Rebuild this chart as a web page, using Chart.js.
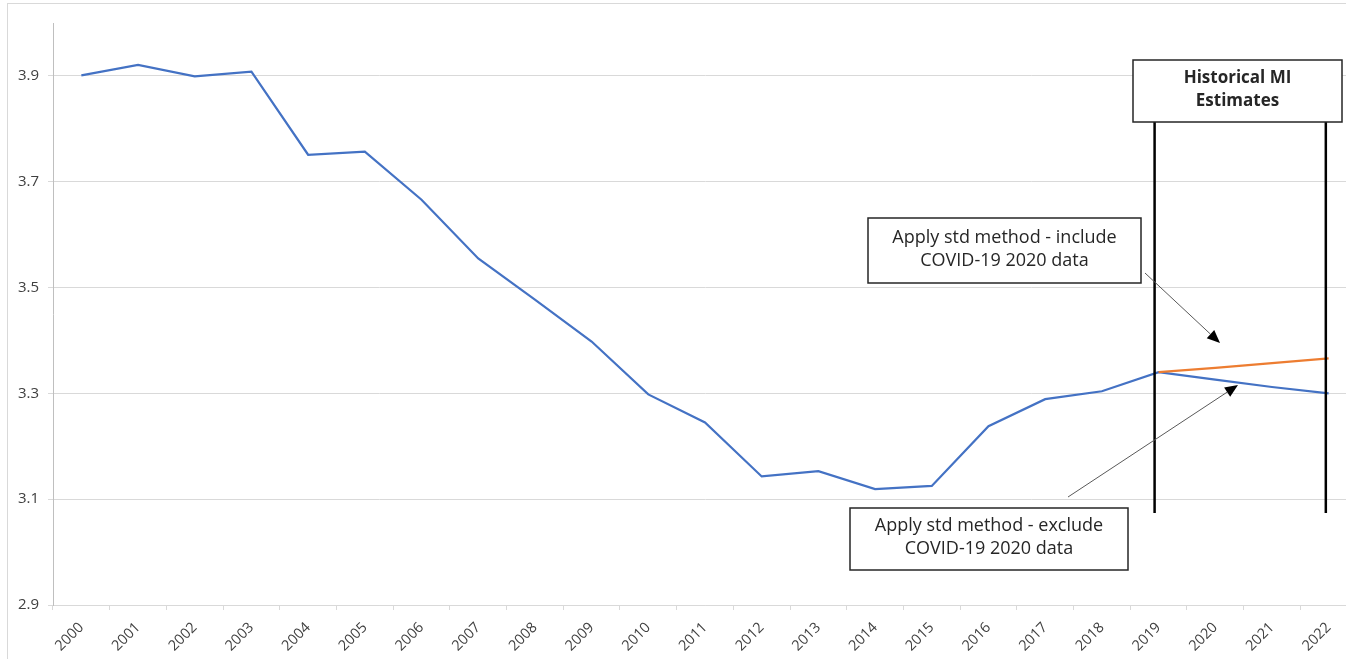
<!DOCTYPE html>
<html lang="en">
<head>
  <meta charset="UTF-8">
  <title>Historical MI Estimates</title>
  <script src="https://cdn.jsdelivr.net/npm/chart.js@4"></script>
  <style>
    * { margin: 0; padding: 0; box-sizing: border-box; }
    html, body { width: 1346px; height: 659px; overflow: hidden; background: white; }
    .frame {
      position: absolute; left: 7px; top: 3px;
      width: 1400px; height: 700px;
      border: 1px solid #d9d9d9;
    }
    #chart { position: absolute; left: 0; top: 0; }
  </style>
</head>
<body>
  <div class="frame"></div>
  <canvas id="chart" width="1360" height="659"></canvas>

  <script>
    // ---- data ----
    var years = ['2000','2001','2002','2003','2004','2005','2006','2007','2008','2009','2010',
                 '2011','2012','2013','2014','2015','2016','2017','2018','2019','2020','2021','2022'];

    // std method, excluding COVID-19 2020 data (blue)
    var excludeCovid = [3.901, 3.921, 3.899, 3.908, 3.751, 3.757, 3.666, 3.555, 3.477, 3.398, 3.298,
                        3.245, 3.143, 3.153, 3.119, 3.125, 3.238, 3.289, 3.304, 3.340, 3.326, 3.312, 3.300];

    // std method, including COVID-19 2020 data (orange), only 2019 onward
    var includeCovid = [null, null, null, null, null, null, null, null, null, null, null,
                        null, null, null, null, null, null, null, null, 3.340, 3.348, 3.357, 3.366];

    var yTicks = [2.9, 3.1, 3.3, 3.5, 3.7, 3.9];

    var FONT = "'Open Sans', sans-serif";

    // ---- annotation boxes / arrows (pixel layout) ----
    var boxes = [
      { x: 1133, y: 60, w: 209, h: 62, lines: ['Historical MI', 'Estimates'], bold: true, size: 17 },
      { x: 868, y: 218, w: 273, h: 65, lines: ['Apply std method - include', 'COVID-19 2020 data'], bold: false, size: 18 },
      { x: 850, y: 508, w: 278, h: 62, lines: ['Apply std method - exclude', 'COVID-19 2020 data'], bold: false, size: 18 }
    ];
    var arrows = [
      { x1: 1145, y1: 273, x2: 1220, y2: 343 },
      { x1: 1068, y1: 497, x2: 1238, y2: 385 }
    ];

    var annotations = {
      id: 'annotations',
      afterDatasetsDraw: function(chart) {
        var ctx = chart.ctx;
        var xs = chart.scales.x;
        ctx.save();

        // window bracket lines
        ctx.strokeStyle = '#000000';
        ctx.lineWidth = 2.5;
        [18.93, 21.95].forEach(function(v) {
          var px = xs.getPixelForValue(v);
          ctx.beginPath();
          ctx.moveTo(px, 122);
          ctx.lineTo(px, 513);
          ctx.stroke();
        });

        // arrows
        arrows.forEach(function(a) {
          var ang = Math.atan2(a.y2 - a.y1, a.x2 - a.x1);
          var hl = 13, hw = 5.5;
          var bx = a.x2 - hl * Math.cos(ang), by = a.y2 - hl * Math.sin(ang);
          ctx.strokeStyle = '#595959';
          ctx.lineWidth = 1;
          ctx.beginPath();
          ctx.moveTo(a.x1, a.y1);
          ctx.lineTo(bx, by);
          ctx.stroke();
          ctx.fillStyle = '#000000';
          ctx.beginPath();
          ctx.moveTo(a.x2, a.y2);
          ctx.lineTo(bx + hw * Math.sin(ang), by - hw * Math.cos(ang));
          ctx.lineTo(bx - hw * Math.sin(ang), by + hw * Math.cos(ang));
          ctx.closePath();
          ctx.fill();
        });

        // boxes
        boxes.forEach(function(b) {
          ctx.fillStyle = '#ffffff';
          ctx.fillRect(b.x, b.y, b.w, b.h);
          ctx.strokeStyle = '#262626';
          ctx.lineWidth = 1.5;
          ctx.strokeRect(b.x, b.y, b.w, b.h);
          ctx.fillStyle = '#262626';
          ctx.font = (b.bold ? 'bold ' : '') + b.size + 'px ' + FONT;
          ctx.textAlign = 'center';
          ctx.textBaseline = 'middle';
          var cx = b.x + b.w / 2;
          var cy = b.y + b.h / 2;
          ctx.fillText(b.lines[0], cx, cy - 13);
          ctx.fillText(b.lines[1], cx, cy + 10);
        });

        ctx.restore();
      }
    };

    new Chart(document.getElementById('chart').getContext('2d'), {
      type: 'line',
      data: {
        labels: years,
        datasets: [
          {
            label: 'Include COVID-19 2020 data',
            data: includeCovid,
            borderColor: '#ED7D31',
            borderWidth: 2.2,
            pointRadius: 0,
            tension: 0,
            fill: false,
            order: 0
          },
          {
            label: 'Exclude COVID-19 2020 data',
            data: excludeCovid,
            borderColor: '#4472C4',
            borderWidth: 2.2,
            pointRadius: 0,
            tension: 0,
            fill: false,
            order: 1
          }
        ]
      },
      options: {
        responsive: false,
        animation: false,
        layout: { padding: { left: 0, top: 23, right: 3, bottom: 0 } },
        plugins: {
          legend: { display: false },
          tooltip: { enabled: false }
        },
        scales: {
          x: {
            offset: true,
            grid: {
              offset: true,
              drawOnChartArea: false,
              color: '#d9d9d9',
              tickLength: 5
            },
            border: { color: '#d9d9d9', width: 1 },
            ticks: {
              color: '#404040',
              font: { family: FONT, size: 14.5 },
              minRotation: 45,
              maxRotation: 45,
              padding: 9,
              autoSkip: false
            },
            afterFit: function(scale) { scale.height = 54; }
          },
          y: {
            min: 2.9,
            max: 4.0,
            afterBuildTicks: function(scale) {
              scale.ticks = yTicks.map(function(v) { return { value: v }; });
            },
            grid: { color: '#d9d9d9', tickLength: 5 },
            border: { color: '#bfbfbf', width: 1 },
            ticks: {
              color: '#404040',
              font: { family: FONT, size: 15 },
              padding: 9,
              callback: function(v) { return Number(v).toFixed(1); }
            },
            afterFit: function(scale) { scale.width = 53; }
          }
        }
      },
      plugins: [annotations]
    });
  </script>
</body>
</html>
